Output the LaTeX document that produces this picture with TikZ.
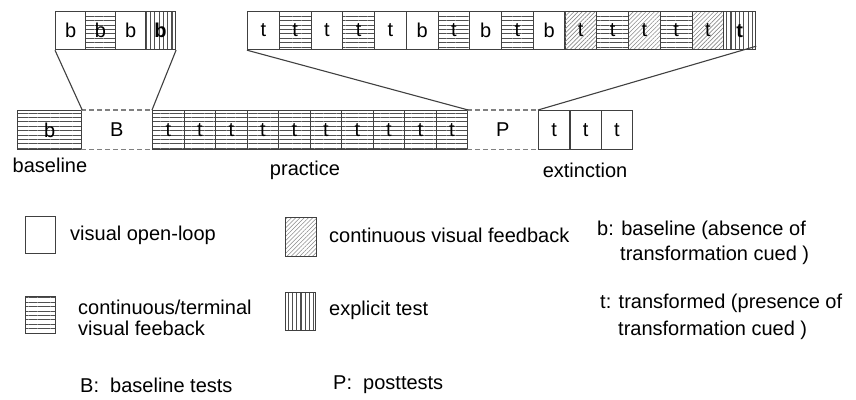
\documentclass[tikz,border=0pt]{standalone}
\usepackage{fontspec}
\setmainfont{Liberation Sans}
\usetikzlibrary{patterns.meta,calc}
\definecolor{linec}{HTML}{404040}
\definecolor{stripec}{HTML}{505050}
\definecolor{hatchc}{HTML}{8A8A8A}
\begin{document}
\begin{tikzpicture}[x=1pt,y=-1pt,
  cell/.style={draw=linec, line width=1.2pt, minimum width=31.75pt, minimum height=38pt,
    inner sep=0pt, anchor=north west, font=\fontsize{20}{24}\selectfont},
  wh/.style={},
  hst/.style={pattern={Lines[angle=0,distance=4.4pt,line width=0.9pt]}, pattern color=stripec},
  vst/.style={pattern={Lines[angle=90,distance=4.3pt,line width=1.1pt]}, pattern color=stripec},
  dst/.style={pattern={Lines[angle=45,distance=3pt,line width=0.6pt]}, pattern color=hatchc},
  gap/.style={inner sep=0pt, minimum width=71pt, minimum height=39pt, anchor=north west,
    font=\fontsize{20}{24}\selectfont},
  conn/.style={draw=linec, line width=1.1pt},
  dashline/.style={draw=gray, line width=1.2pt, dash pattern=on 5pt off 3pt},
  txt/.style={anchor=west, inner sep=0pt, font=\fontsize{20}{24}\selectfont},
  lab/.style={inner sep=0pt, font=\fontsize{20}{24}\selectfont}
]
\useasboundingbox (0,0) rectangle (856,399);

% top-left zoom box
\foreach \i/\s/\l in {1/wh/b, 2/hst/b, 3/wh/b, 4/vst/{\bfseries b}} {
  \node[cell, \s, minimum width=30pt] (tl\i) at ({55+(\i-1)*30},11) {\l};
}

% top-right zoom box
\foreach \i/\s/\l in {1/wh/t, 2/hst/t, 3/wh/t, 4/hst/t, 5/wh/t, 6/wh/b, 7/hst/t, 8/wh/b,
  9/hst/t, 10/wh/b, 11/dst/t, 12/hst/t, 13/dst/t, 14/hst/t, 15/dst/t, 16/vst/{\bfseries t}} {
  \node[cell, \s] (tr\i) at ({247+(\i-1)*31.75},11) {\l};
}

% bottom row
\node[cell, hst, minimum width=64pt, minimum height=39pt] (base) at (17,110) {b};
\node[gap] (gapB) at (81,110) {B};
\foreach \i in {1,...,10} {
  \node[cell, hst, minimum width=31.5pt, minimum height=39pt] (p\i) at ({152+(\i-1)*31.5},110) {t};
}
\node[gap] (gapP) at (467,110) {P};
\foreach \i in {1,2,3} {
  \node[cell, minimum width=31.33pt, minimum height=39pt] (e\i) at ({538+(\i-1)*31.33},110) {t};
}

% dashed gap borders
\draw[dashline] (gapB.north west) -- (gapB.north east);
\draw[dashline] (gapB.south west) -- (gapB.south east);
\draw[dashline] (gapP.north west) -- (gapP.north east);
\draw[dashline] (gapP.south west) -- (gapP.south east);

% zoom connectors
\coordinate (trend) at ($(tr16.south east)+(0,-4)$);
\draw[conn] (tl1.south west) -- (base.north east);
\draw[conn] (tl4.south east) -- (p1.north west);
\draw[conn] (tr1.south west) -- (p10.north east);
\draw[conn] (trend) -- (e1.north west);

% phase labels
\node[lab] (lbase) at (50,165) {baseline};
\node[lab] (lprac) at (305,170) {practice};
\node[lab] (lext) at (585,170) {extinction};

% legend
\node[cell, minimum width=30pt, minimum height=37pt] (kwhite) at (25,216) {};
\node[txt] (twhite) at (70,235) {visual open-loop};
\node[cell, dst, minimum width=31pt, minimum height=39pt] (kdiag) at (285,217) {};
\node[txt] (tdiag) at (329,235) {continuous visual feedback};
\node[txt, align=left, font=\fontsize{20}{25}\selectfont] (tb) at (597,242.5)
  {b: baseline (absence of\\\hspace*{23pt}transformation cued )};

\node[cell, hst, minimum width=30pt, minimum height=37pt] (khor) at (25,296) {};
\node[txt, align=left, font=\fontsize{20}{21}\selectfont] (thor) at (78,317.5)
  {continuous/terminal\\visual feeback};
\node[cell, vst, minimum width=30pt, minimum height=38pt] (kvert) at (285,292) {};
\node[txt] (tvert) at (329,310) {explicit test};
\node[txt, align=left, font=\fontsize{20}{27}\selectfont] (tt) at (600,316.5)
  {t: transformed (presence of\\\hspace*{18pt}transformation cued )};

\node[txt] (tB) at (80,385) {B:\ \ baseline tests};
\node[txt] (tP) at (333,385) {P:\ \ posttests};
\end{tikzpicture}
\end{document}
